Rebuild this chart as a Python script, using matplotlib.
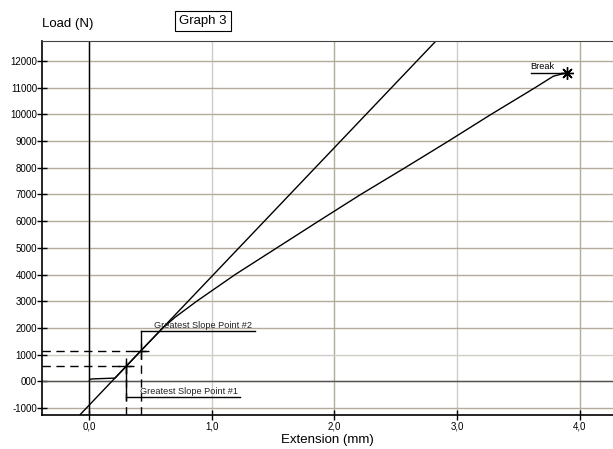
import numpy as np
import matplotlib
matplotlib.use("Agg")
import matplotlib.pyplot as plt
from matplotlib.ticker import FuncFormatter

# load-extension curve
ext = [0.0, 0.003, 0.03, 0.21, 0.31, 0.43, 0.60, 0.70, 0.876, 1.19, 1.53,
       1.87, 2.214, 2.575, 2.93, 3.27, 3.636, 3.785, 3.893]
load = [0, 75, 90, 120, 610, 1190, 2000, 2400, 3000, 4000, 5000,
        6000, 7000, 8000, 9000, 9980, 11000, 11430, 11560]

# greatest slope points and tangent line
gsp_x = [0.3015, 0.424]
gsp_y = [573, 1146]
gsp_labels = ["Greatest Slope Point #1", "Greatest Slope Point #2"]
tangent_x0 = 0.184
tangent_slope = 4823

break_x, break_y = 3.893, 11560

xticks = [0.0, 1.0, 2.0, 3.0, 4.0]
yticks = [-1000, 0, 1000, 2000, 3000, 4000, 5000, 6000, 7000, 8000,
          9000, 10000, 11000, 12000]

plt.rcParams['font.family'] = ['Liberation Sans', 'DejaVu Sans']

fig = plt.figure(figsize=(6.13, 4.49), dpi=100)
ax = fig.add_axes([42/613, 1 - 415/449, 1 - 42/613, (415 - 41)/449])

xmin, xmax = -0.386, 4.272
ymin, ymax = -1263, 12750
ax.set_xlim(xmin, xmax)
ax.set_ylim(ymin, ymax)

grid_c = '#b3ac9b'
light_c = '#cfcdc6'
ax.set_xticks(xticks)
ax.set_yticks(yticks)
ax.grid(True, color=grid_c, lw=1)
ax.set_axisbelow(True)
# some gridlines are drawn lighter in the original
for v, gl in zip(xticks, ax.get_xgridlines()):
    if v in (1.0, 3.0):
        gl.set_color(light_c)
for v, gl in zip(yticks, ax.get_ygridlines()):
    if v == 1000:
        gl.set_color(light_c)

ax.xaxis.set_major_formatter(FuncFormatter(lambda v, p: ('%.1f' % v).replace('.', ',')))
ax.yaxis.set_major_formatter(FuncFormatter(lambda v, p: '000' if v == 0 else '%d' % v))
ax.tick_params(direction='inout', length=7, width=1, labelsize=7, colors='black')
ax.tick_params(axis='y', pad=0)
ax.tick_params(axis='x', pad=1)

ax.spines['right'].set_visible(False)
ax.spines['top'].set_color('#444444')
ax.spines['left'].set_linewidth(1.2)
ax.spines['bottom'].set_linewidth(1.2)

# axes through origin
ax.axvline(0, color='black', lw=1)
ax.axhline(0, color='#555555', lw=1)

# tangent
ax.axline((tangent_x0, 0), slope=tangent_slope, color='black', lw=1)

# curve
ax.plot(ext, load, color='black', lw=1)

# greatest slope point markers and guides
dx = 0.035
for gx, gy in zip(gsp_x, gsp_y):
    ax.plot([xmin, gx + dx], [gy, gy], color='black', lw=1, ls=(0, (6, 4)))
    ax.plot([gx, gx], [ymin, gy], color='black', lw=1, ls=(0, (6, 4)))
    ax.plot(gx, gy, marker='+', ms=11, mew=1, color='black')

# label #1: leader below
ax.plot([gsp_x[0], gsp_x[0]], [gsp_y[0] + 160, -700], color='black', lw=1)
ax.plot([gsp_x[0], 1.23], [-580, -580], color='black', lw=1)
ax.text(0.416, -545, gsp_labels[0], fontsize=6.6, ha='left', va='bottom', color='#222222')

# label #2: leader above
ax.plot([gsp_x[1], gsp_x[1]], [gsp_y[1], 1895], color='black', lw=1)
ax.plot([gsp_x[1], 1.353], [1895, 1895], color='black', lw=1)
ax.text(0.53, 1930, gsp_labels[1], fontsize=6.6, ha='left', va='bottom', color='#222222')

# break
ax.plot([3.6, break_x], [break_y, break_y], color='black', lw=1)
ax.text(3.6, break_y + 50, "Break", fontsize=6.6, ha='left', va='bottom')
ax.plot(break_x, break_y, marker=(8, 2, 0), ms=9, mew=1, color='black')

fig.text(42/613, 1 - 24/449, "Load (N)", fontsize=9.5, ha='left', va='center')
fig.text(203/613, 1 - 21/449, "Graph 3", fontsize=9.5, ha='center', va='center',
         bbox=dict(boxstyle='square,pad=0.3', fc='white', ec='black', lw=0.8))
fig.text(327/613, 1 - 440/449, "Extension (mm)", fontsize=9.5, ha='center', va='center')

fig.savefig("out.png", dpi=100)
